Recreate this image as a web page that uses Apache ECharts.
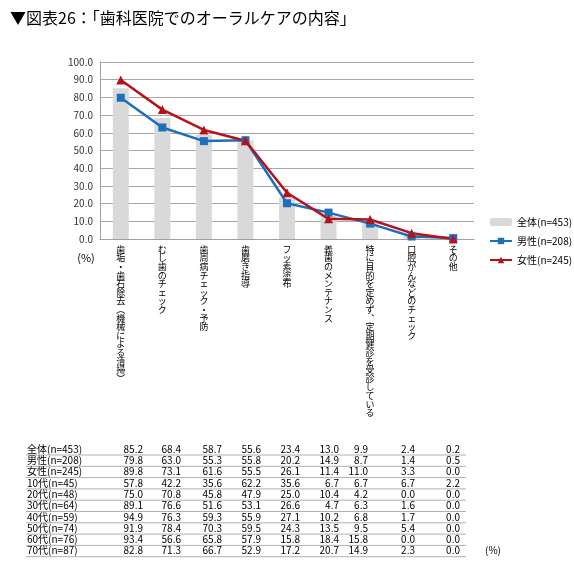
<!DOCTYPE html>
<html>
<head>
<meta charset="utf-8">
<script src="https://cdn.jsdelivr.net/npm/echarts@6/dist/echarts.min.js"></script>
<style>
  html, body { margin: 0; padding: 0; background: #fff; }
  #main { width: 574px; height: 574px; }
</style>
</head>
<body>
<div id="main"></div>
<script>
// categories on the x axis
const categories = [
  '歯垢・歯石除去（機械による清掃）',
  'むし歯のチェック',
  '歯周病チェック・予防',
  '歯磨き指導',
  'フッ素塗布',
  '義歯のメンテナンス',
  '特に目的を定めず、定期健診を受診している',
  '口腔がんなどのチェック',
  'その他'
];

// table rows (first three also drawn in the chart)
const rowLabels = [
  '全体(n=453)', '男性(n=208)', '女性(n=245)', '10代(n=45)', '20代(n=48)',
  '30代(n=64)', '40代(n=59)', '50代(n=74)', '60代(n=76)', '70代(n=87)'
];
const allData   = [85.2, 68.4, 58.7, 55.6, 23.4, 13.0, 9.9, 2.4, 0.2];
const maleData  = [79.8, 63.0, 55.3, 55.8, 20.2, 14.9, 8.7, 1.4, 0.5];
const femaleData = [89.8, 73.1, 61.6, 55.5, 26.1, 11.4, 11.0, 3.3, 0.0];
const age10 = [57.8, 42.2, 35.6, 62.2, 35.6, 6.7, 6.7, 6.7, 2.2];
const age20 = [75.0, 70.8, 45.8, 47.9, 25.0, 10.4, 4.2, 0.0, 0.0];
const age30 = [89.1, 76.6, 51.6, 53.1, 26.6, 4.7, 6.3, 1.6, 0.0];
const age40 = [94.9, 76.3, 59.3, 55.9, 27.1, 10.2, 6.8, 1.7, 0.0];
const age50 = [91.9, 78.4, 70.3, 59.5, 24.3, 13.5, 9.5, 5.4, 0.0];
const age60 = [93.4, 56.6, 65.8, 57.9, 15.8, 18.4, 15.8, 0.0, 0.0];
const age70 = [82.8, 71.3, 66.7, 52.9, 17.2, 20.7, 14.9, 2.3, 0.0];
const tableRows = [allData, maleData, femaleData, age10, age20, age30, age40, age50, age60, age70];

const font = '"Noto Sans CJK JP", "Noto Sans", sans-serif';

// vertical text: one char per line, with vertical forms for brackets/comma
const vmap = { '（': '︵', '）': '︶', '、': '︑' };
function vertical(s) {
  return s.split('').map(c => vmap[c] || c).join('\n');
}

// table graphics
const colRight = [143, 181, 222, 261, 300, 339, 368, 415, 460];
const rowTop = 449, rowPitch = 11.3;
const graphics = [];
graphics.push({
  type: 'text', x: 10, y: 18,
  style: { text: '▼図表26：「歯科医院でのオーラルケアの内容」', font: '16px ' + font, fill: '#000', textVerticalAlign: 'middle' }
});
graphics.push({
  type: 'text', x: 86, y: 258,
  style: { text: '(%)', font: '11px ' + font, fill: '#000', textAlign: 'center', textVerticalAlign: 'middle' }
});
tableRows.forEach((row, i) => {
  const y = rowTop + i * rowPitch;
  graphics.push({
    type: 'text', x: 27, y: y,
    style: { text: rowLabels[i], font: '10px ' + font, fill: '#000', textVerticalAlign: 'middle' }
  });
  row.forEach((v, j) => {
    graphics.push({
      type: 'text', x: colRight[j], y: y,
      style: { text: v.toFixed(1), font: '10px ' + font, fill: '#000', textAlign: 'right', textVerticalAlign: 'middle' }
    });
  });
  graphics.push({
    type: 'line', shape: { x1: 26, y1: y + 6, x2: 466, y2: y + 6 },
    style: { stroke: '#b0b0b0', lineWidth: 1 }
  });
});
graphics.push({
  type: 'text', x: 493, y: rowTop + 9 * rowPitch,
  style: { text: '(%)', font: '10px ' + font, fill: '#000', textAlign: 'center', textVerticalAlign: 'middle' }
});

const chart = echarts.init(document.getElementById('main'));
chart.setOption({
  animation: false,
  backgroundColor: '#fff',
  grid: { left: 100, right: 100, top: 62, bottom: 335 },
  legend: {
    orient: 'vertical',
    left: 484, top: 212,
    itemWidth: 22, itemHeight: 8, itemGap: 9,
    textStyle: { fontSize: 10, fontFamily: font, color: '#000' },
    data: ['全体(n=453)', '男性(n=208)', '女性(n=245)']
  },
  xAxis: {
    type: 'category',
    data: categories,
    axisLine: { lineStyle: { color: '#a0a0a0' } },
    axisTick: { show: false },
    axisLabel: {
      interval: 0,
      margin: 6,
      verticalAlign: 'top',
      fontSize: 9,
      lineHeight: 8.6,
      fontFamily: font,
      color: '#000',
      formatter: v => vertical(v)
    }
  },
  yAxis: {
    type: 'value',
    min: 0, max: 100, interval: 10,
    axisLine: { show: true, lineStyle: { color: '#a0a0a0' } },
    axisTick: { show: false },
    splitLine: { lineStyle: { color: '#a8a8a8' } },
    axisLabel: {
      fontSize: 10, fontFamily: font, color: '#333', margin: 7,
      formatter: v => v.toFixed(1)
    }
  },
  series: [
    {
      name: '全体(n=453)', type: 'bar', data: allData,
      barWidth: 16,
      itemStyle: { color: '#d9d9d9' }
    },
    {
      name: '男性(n=208)', type: 'line', data: maleData,
      symbol: 'rect', symbolSize: 8,
      lineStyle: { color: '#1c6fb8', width: 2.5 },
      itemStyle: { color: '#1c6fb8' }
    },
    {
      name: '女性(n=245)', type: 'line', data: femaleData,
      symbol: 'triangle', symbolSize: 9,
      lineStyle: { color: '#b5121b', width: 2.5 },
      itemStyle: { color: '#b5121b' }
    }
  ],
  graphic: graphics
});
</script>
</body>
</html>
